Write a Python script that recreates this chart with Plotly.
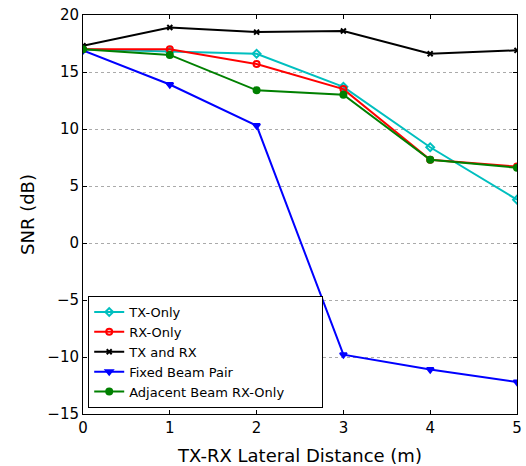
import plotly.graph_objects as go

x = [0, 1, 2, 3, 4, 5]
tx_only = [17.0, 16.8, 16.6, 13.7, 8.4, 3.8]
rx_only = [17.0, 17.0, 15.7, 13.5, 7.3, 6.7]
tx_and_rx = [17.3, 18.9, 18.5, 18.6, 16.6, 16.9]
fixed_pair = [16.9, 13.9, 10.3, -9.8, -11.1, -12.2]
adjacent_rx = [17.0, 16.5, 13.4, 13.0, 7.3, 6.6]

pad = "\u00a0" * 8
series = [
    ("TX-Only", tx_only, "#00BFBF", "diamond-open", 6),
    ("RX-Only", rx_only, "#FF0000", "circle-open", 6),
    ("TX and RX", tx_and_rx, "#000000", "x-thin-open", 5),
    ("Fixed Beam Pair", fixed_pair, "#0000FF", "triangle-down", 6),
    ("Adjacent Beam RX-Only" + pad, adjacent_rx, "#008000", "circle", 6),
]

fig = go.Figure()
for name, y, c, sym, sz in series:
    fig.add_trace(go.Scatter(
        x=x, y=y, name=name, mode="lines+markers",
        line=dict(color=c, width=2),
        marker=dict(symbol=sym, size=sz, color=c, line=dict(color=c, width=2)),
    ))

font = "DejaVu Sans, Verdana, sans-serif"
fig.update_layout(
    width=526, height=466,
    margin=dict(l=83, r=9, t=15, b=52),
    paper_bgcolor="white", plot_bgcolor="white",
    font=dict(family=font, size=15, color="black"),
    showlegend=True,
    legend=dict(x=0.012, y=0.015, xanchor="left", yanchor="bottom",
                bgcolor="white", bordercolor="black", borderwidth=1,
                font=dict(size=13), tracegroupgap=0, itemwidth=30),
    xaxis=dict(range=[0, 5], tickvals=[0, 1, 2, 3, 4, 5], showgrid=False,
               showline=True, linecolor="black", linewidth=1, mirror="ticks",
               ticks="inside", ticklen=4, tickcolor="black", automargin=False,
               title=dict(text="TX-RX Lateral Distance (m)", font=dict(size=18)),
               zeroline=False),
    yaxis=dict(range=[-15, 20], tickvals=[-15, -10, -5, 0, 5, 10, 15, 20],
               ticktext=["\u221215", "\u221210", "\u22125", "0", "5", "10", "15", "20"],
               showgrid=True, gridcolor="#aaaaaa", griddash="dot", gridwidth=1,
               showline=True, linecolor="black", linewidth=1, mirror="ticks",
               ticks="inside", ticklen=4, tickcolor="black", automargin="left",
               title=dict(text="SNR (dB)", font=dict(size=18), standoff=8),
               zeroline=False),
)

fig.write_html("out.html")
